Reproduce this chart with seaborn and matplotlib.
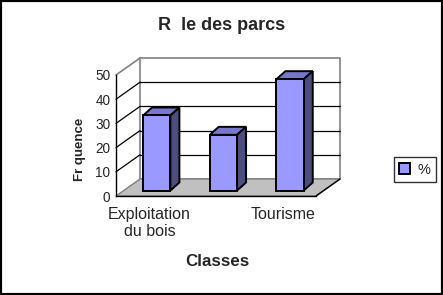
import matplotlib
matplotlib.use("Agg")
import matplotlib.pyplot as plt
from matplotlib.patches import Polygon, Rectangle
from matplotlib.lines import Line2D
from matplotlib.transforms import Affine2D
import seaborn as sns

# Data
categories = ["Exploitation\ndu bois", "", "Tourisme"]
values = [31, 23, 46]
yticks = [0, 10, 20, 30, 40, 50]
title = "R  le des parcs"
xlabel = "Classes"
ylabel = "Fr quence"
series_name = "%"

sns.set_style("white")
plt.rcParams["font.family"] = ["Liberation Sans", "DejaVu Sans"]

W, H = 443, 295
fig = plt.figure(figsize=(W / 100, H / 100), dpi=100)

# front plane of the pseudo-3D box, in pixels
x0, x1 = 116, 316
yb, yt = 196, 75
ax = fig.add_axes([x0 / W, 1 - yb / H, (x1 - x0) / W, (yb - yt) / H])

front = "#9999ff"
top_c = "#7777cc"
side_c = "#4d4d80"
wall_edge = "#808080"
floor_c = "#c0c0c0"

sns.barplot(x=categories, y=values, color=front, width=0.41, saturation=1,
            edgecolor="black", linewidth=1.4, ax=ax, zorder=10)

ax.set_xlim(-0.5, 2.5)
ax.set_ylim(0, 50)
ax.patch.set_visible(False)

px_x = (x1 - x0) / 3.0
px_y = (yb - yt) / 50.0
# depth of the box (back wall offset) in data units
DX, DY = 24 / px_x, 17 / px_y
# bar position inside the depth, and bar depth
BX, BY = 7.4 / px_x, 5.5 / px_y
SX, SY = 9 / px_x, 8 / px_y

# back wall
ax.add_patch(Polygon([(-0.5 + DX, DY), (2.5 + DX, DY), (2.5 + DX, 50 + DY), (-0.5 + DX, 50 + DY)],
                     closed=True, facecolor="white", edgecolor=wall_edge, lw=1.2,
                     clip_on=False, zorder=1))
for v in yticks[1:-1]:
    ax.add_line(Line2D([-0.5 + DX, 2.5 + DX], [v + DY, v + DY], color="black", lw=0.9,
                       clip_on=False, zorder=2))
    ax.add_line(Line2D([-0.5, -0.5 + DX], [v, v + DY], color="black", lw=0.9,
                       clip_on=False, zorder=2))
ax.add_line(Line2D([-0.5, -0.5 + DX], [50, 50 + DY], color=wall_edge, lw=1.2,
                   clip_on=False, zorder=2))

# floor
ax.add_patch(Polygon([(-0.5, 0), (2.5, 0), (2.5 + DX, DY), (-0.5 + DX, DY)], closed=True,
                     facecolor=floor_c, edgecolor=wall_edge, lw=1.0, clip_on=False, zorder=3))
ax.add_line(Line2D([2.5, 2.5 + DX], [0, DY], color="black", lw=1.0, clip_on=False, zorder=4))

# bars: move the front faces into the box and add their top and side faces
shift = Affine2D().translate(BX, BY) + ax.transData
bars = [p for p in ax.patches if isinstance(p, Rectangle) and p.get_zorder() == 10]
for p in bars:
    p.set_transform(shift)
    p.set_clip_on(False)
    xl, w, h = p.get_x(), p.get_width(), p.get_height()
    xr = xl + w
    ax.add_patch(Polygon([(xl, h), (xr, h), (xr + SX, h + SY), (xl + SX, h + SY)], closed=True,
                         facecolor=top_c, edgecolor="black", lw=1.4, transform=shift,
                         clip_on=False, zorder=9))
    ax.add_patch(Polygon([(xr, 0), (xr + SX, SY), (xr + SX, h + SY), (xr, h)], closed=True,
                         facecolor=side_c, edgecolor="black", lw=1.4, transform=shift,
                         clip_on=False, zorder=9))

# axes
sns.despine(ax=ax, top=True, right=True)
for s in ("left", "bottom"):
    ax.spines[s].set_color("black")
    ax.spines[s].set_linewidth(1.0)
    ax.spines[s].set_zorder(5)
ax.set_yticks(yticks)
ax.set_yticklabels([str(v) for v in yticks], fontsize=9.8)
ax.tick_params(axis="y", direction="out", length=3, width=1, color="black", pad=1)
ax.set_xticks([-0.5, 0.5, 1.5, 2.5])
ax.set_xticklabels([])
ax.set_xticks([0, 1, 2], minor=True)
ax.set_xticklabels(categories, minor=True, fontsize=11.5, linespacing=1.15)
ax.tick_params(axis="x", which="major", direction="out", length=4, width=1, color="black")
ax.tick_params(axis="x", which="minor", length=0, pad=8)
ax.set_xlabel("")
ax.set_ylabel("")

# texts
fig.text(222 / W, 1 - 25 / H, title, ha="center", va="center", fontsize=13, fontweight="bold")
fig.text(217 / W, 1 - 262 / H, xlabel, ha="center", va="center", fontsize=12.2, fontweight="bold")
fig.text(80 / W, 1 - 149 / H, ylabel, ha="center", va="center", fontsize=9.5,
         fontweight="bold", rotation=90)

# legend
handle = Rectangle((0, 0), 1, 1, facecolor=front, edgecolor="black", lw=1.4)
leg = fig.legend([handle], [series_name], loc="center", bbox_to_anchor=(415 / W, 1 - 169.5 / H),
                 fontsize=10.5, frameon=True, fancybox=False, handlelength=0.75, handleheight=0.75,
                 handletextpad=0.5, borderpad=0.4, borderaxespad=0)
leg.get_frame().set_edgecolor("black")
leg.get_frame().set_linewidth(1.0)

# outer frame
fig.add_artist(Rectangle((0, 0), 1, 1, transform=fig.transFigure, fill=False,
                         edgecolor="black", lw=3))

fig.savefig("out.png", dpi=100)
